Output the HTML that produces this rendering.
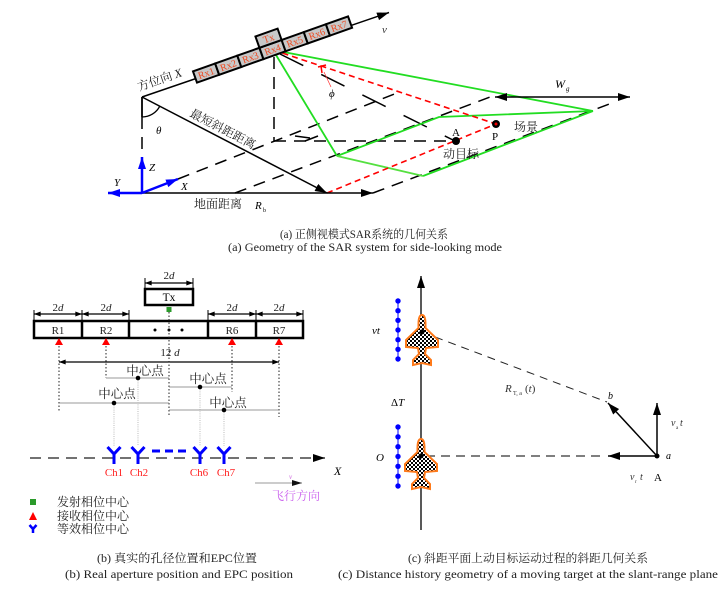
<!DOCTYPE html>
<html><head><meta charset="utf-8"><style>
html,body{margin:0;padding:0;background:#fff;}
svg{display:block;}
text{font-family:"Liberation Serif","Noto Serif CJK SC",serif;}
</style></head><body>
<svg width="728" height="592" viewBox="0 0 728 592" xmlns="http://www.w3.org/2000/svg">
<defs>
<marker id="ah" viewBox="0 0 12 8" refX="12" refY="4" markerWidth="12" markerHeight="8" markerUnits="userSpaceOnUse" orient="auto-start-reverse"><path d="M0,0 L12,4 L0,8 z" fill="#000"/></marker>
<marker id="ahs" viewBox="0 0 8 6" refX="8" refY="3" markerWidth="7" markerHeight="5" markerUnits="userSpaceOnUse" orient="auto-start-reverse"><path d="M0,0 L8,3 L0,6 z" fill="#000"/></marker>
<marker id="ahb" viewBox="0 0 12 8" refX="12" refY="4" markerWidth="12" markerHeight="9" markerUnits="userSpaceOnUse" orient="auto"><path d="M0,0 L12,4 L0,8 z" fill="#0000ff"/></marker>
<marker id="ahg" viewBox="0 0 10 6" refX="10" refY="3" markerWidth="10" markerHeight="6" markerUnits="userSpaceOnUse" orient="auto"><path d="M0,0 L10,3 L0,6 z" fill="#111"/></marker>
<pattern id="chk" width="4" height="4" patternUnits="userSpaceOnUse"><rect width="4" height="4" fill="#fff"/><rect width="2" height="2" fill="#000"/><rect x="2" y="2" width="2" height="2" fill="#000"/></pattern>
<path id="plane" d="M0,-17 C2.5,-17 3.5,-13 3.5,-8 L3.5,-4 L16,8 L16,15 L4,16 L3,22 L9,28 L9,33 L0,31 L-9,33 L-9,28 L-3,22 L-4,16 L-16,15 L-16,8 L-3.5,-4 L-3.5,-8 C-3.5,-13 -2.5,-17 0,-17 Z"/>
</defs>

<!-- ============ (a) top diagram ============ -->
<g stroke="#000" stroke-width="1.5" stroke-dasharray="12,8" fill="none">
<line x1="178" y1="179" x2="397" y2="93"/>
<line x1="235" y1="193" x2="490" y2="97"/>
<line x1="373" y1="193" x2="612" y2="103"/>
<line x1="274" y1="57" x2="274" y2="141"/>
<line x1="274" y1="141" x2="455" y2="141"/>
<line x1="142" y1="117" x2="142" y2="155"/>
</g>
<path d="M295,136 L310,138 M305,141 L318,136" stroke="#000" stroke-width="1.5" fill="none"/>
<line x1="280" y1="54" x2="455" y2="141" stroke="#000" stroke-width="1.5" stroke-dasharray="26,20"/>
<g stroke="#22dd22" stroke-width="1.8" fill="none">
<line x1="273" y1="50" x2="593" y2="111"/>
<line x1="273" y1="50" x2="337" y2="156"/>
<polyline points="337,156 439,117 593,111"/>
<line x1="423" y1="176" x2="593" y2="111"/>
</g>
<line x1="337" y1="156" x2="423" y2="176" stroke="#55e040" stroke-width="1.8"/>
<g stroke="#ff0000" stroke-width="1.6" stroke-dasharray="6,4" fill="none">
<line x1="273" y1="50" x2="496" y2="124"/>
<line x1="327" y1="193" x2="496" y2="124"/>
</g>
<path d="M318,67 L326,65 M321,66 L322,73" stroke="#ff0000" stroke-width="1.5" fill="none"/>
<line x1="324" y1="72" x2="331" y2="87" stroke="#ff3030" stroke-width="0.7"/>
<text x="329" y="97" font-size="11" font-style="italic">ϕ</text>
<line x1="142" y1="97" x2="389" y2="12.5" stroke="#000" stroke-width="1.5" marker-end="url(#ah)"/>
<text x="382" y="33" font-size="11" font-style="italic" fill="#333">v</text>
<line x1="142" y1="97" x2="142" y2="117" stroke="#000" stroke-width="1.8"/>
<path d="M142,117 A20,20 0 0 0 159.8,106.2" stroke="#000" stroke-width="1.3" fill="none"/>
<text x="156" y="134" font-size="11" font-style="italic">θ</text>
<line x1="142" y1="97" x2="327" y2="193" stroke="#000" stroke-width="1.5" marker-end="url(#ah)"/>
<line x1="142" y1="193" x2="373" y2="193" stroke="#000" stroke-width="1.5" marker-end="url(#ah)"/>
<line x1="142" y1="193" x2="142" y2="157" stroke="#0000ff" stroke-width="2.5" marker-end="url(#ahb)"/>
<line x1="142" y1="193" x2="108" y2="193" stroke="#0000ff" stroke-width="2.5" marker-end="url(#ahb)"/>
<line x1="142" y1="193" x2="178" y2="179" stroke="#0000ff" stroke-width="2.5" marker-end="url(#ahb)"/>
<text x="149" y="171" font-size="11" font-style="italic">Z</text>
<text x="114" y="186" font-size="11" font-style="italic">Y</text>
<text x="181" y="190" font-size="11" font-style="italic">X</text>
<line x1="495" y1="97" x2="630" y2="97" stroke="#000" stroke-width="1.6" marker-start="url(#ah)" marker-end="url(#ah)"/>
<text x="555" y="88" font-size="12" font-style="italic">W</text><text x="566" y="91" font-size="7" font-style="italic">g</text>
<circle cx="456" cy="141" r="4" fill="#000"/>
<circle cx="496" cy="124" r="4" fill="#000"/>
<circle cx="496" cy="124" r="1.5" fill="#e00"/>
<text x="452" y="136" font-size="11">A</text>
<text x="492" y="140" font-size="11">P</text>
<text x="514" y="131" font-size="12" fill="#222">场景</text>
<text x="443" y="158" font-size="12" fill="#222">动目标</text>
<text transform="translate(139,91) rotate(-19)" font-size="12" fill="#222">方位向 <tspan font-style="italic">X</tspan></text>
<text transform="translate(189,116) rotate(27.4)" font-size="12" fill="#222">最短斜距距离</text>
<text x="194" y="208" font-size="12" fill="#222">地面距离</text>
<text x="255" y="209" font-size="11" font-style="italic">R</text><text x="263" y="212" font-size="6">b</text>
<g transform="translate(195,77) rotate(-19.5)">
<g fill="#c8c8c8" stroke="#000" stroke-width="2">
<rect x="0" y="-6" width="23.5" height="12"/><rect x="23.5" y="-6" width="23.5" height="12"/><rect x="47" y="-6" width="23.5" height="12"/><rect x="70.5" y="-6" width="23.5" height="12"/><rect x="94" y="-6" width="23.5" height="12"/><rect x="117.5" y="-6" width="23.5" height="12"/><rect x="141" y="-6" width="23.5" height="12"/>
<rect x="70.5" y="-18" width="23.5" height="12"/>
</g>
<g fill="#ee4a22" font-size="10" text-anchor="middle">
<text x="11.75" y="3.5">Rx1</text><text x="35.25" y="3.5">Rx2</text><text x="58.75" y="3.5">Rx3</text><text x="82.25" y="3.5">Rx4</text><text x="105.75" y="3.5">Rx5</text><text x="129.25" y="3.5">Rx6</text><text x="152.75" y="3.5">Rx7</text>
<text x="82.25" y="-8.5">Tx</text>
</g>
</g>
<text x="364" y="238" font-size="11.5" text-anchor="middle" fill="#222" textLength="168" lengthAdjust="spacingAndGlyphs">(a) 正侧视模式SAR系统的几何关系</text>
<text x="365" y="251" font-size="11.5" text-anchor="middle" fill="#222" textLength="274" lengthAdjust="spacingAndGlyphs">(a) Geometry of the SAR system for side-looking mode</text>

<!-- ============ (b) ============ -->
<g stroke="#000" stroke-width="1">
<line x1="145" y1="278" x2="145" y2="288"/><line x1="193" y1="278" x2="193" y2="288"/>
<line x1="34" y1="310" x2="34" y2="320"/><line x1="82" y1="310" x2="82" y2="320"/><line x1="129" y1="310" x2="129" y2="320"/>
<line x1="208" y1="310" x2="208" y2="320"/><line x1="256" y1="310" x2="256" y2="320"/><line x1="303" y1="310" x2="303" y2="320"/>
</g>
<g stroke="#000" stroke-width="1.2" marker-start="url(#ahs)" marker-end="url(#ahs)">
<line x1="145" y1="283" x2="193" y2="283"/>
<line x1="34" y1="314" x2="82" y2="314"/><line x1="82" y1="314" x2="129" y2="314"/>
<line x1="208" y1="314" x2="256" y2="314"/><line x1="256" y1="314" x2="303" y2="314"/>
<line x1="59" y1="362" x2="279" y2="362"/>
</g>
<g font-size="11" text-anchor="middle" fill="#222">
<text x="169" y="279">2<tspan font-style="italic">d</tspan></text>
<text x="58" y="311">2<tspan font-style="italic">d</tspan></text>
<text x="106" y="311">2<tspan font-style="italic">d</tspan></text>
<text x="232" y="311">2<tspan font-style="italic">d</tspan></text>
<text x="279" y="311">2<tspan font-style="italic">d</tspan></text>
<text x="170" y="356">12 <tspan font-style="italic">d</tspan></text>
</g>
<rect x="145" y="289" width="48" height="16" fill="#fff" stroke="#000" stroke-width="2.5"/>
<text x="169" y="301" font-size="11.5" text-anchor="middle">Tx</text>
<rect x="166.5" y="307" width="5" height="5" fill="#2a9a2a"/>
<rect x="34" y="321" width="269" height="17" fill="#fff" stroke="#000" stroke-width="2.5"/>
<g stroke="#000" stroke-width="2.5"><line x1="82" y1="321" x2="82" y2="338"/><line x1="129" y1="321" x2="129" y2="338"/><line x1="208" y1="321" x2="208" y2="338"/><line x1="256" y1="321" x2="256" y2="338"/></g>
<g font-size="11" text-anchor="middle" fill="#222">
<text x="58" y="334">R1</text><text x="106" y="334">R2</text><text x="232" y="334">R6</text><text x="279" y="334">R7</text>
</g>
<circle cx="155" cy="330" r="1.5" fill="#000"/><circle cx="169" cy="330" r="1.5" fill="#000"/><circle cx="182" cy="330" r="1.5" fill="#000"/>
<g fill="#ff0000">
<path d="M55,345 L63,345 L59,338 z"/><path d="M102,345 L110,345 L106,338 z"/><path d="M228,345 L236,345 L232,338 z"/><path d="M275,345 L283,345 L279,338 z"/>
</g>
<g stroke="#222" stroke-width="1" stroke-dasharray="1.5,2">
<line x1="59" y1="346" x2="59" y2="412"/><line x1="106" y1="346" x2="106" y2="378"/><line x1="232" y1="346" x2="232" y2="392"/><line x1="279" y1="346" x2="279" y2="417"/><line x1="169" y1="312" x2="169" y2="417"/>
</g>
<g stroke="#777" stroke-width="0.8">
<line x1="106" y1="378" x2="169" y2="378"/><line x1="169" y1="387" x2="232" y2="387"/><line x1="59" y1="403" x2="169" y2="403"/><line x1="169" y1="410" x2="279" y2="410"/>
</g>
<g stroke="#aaa" stroke-width="0.8" stroke-dasharray="1,1.2">
<line x1="114" y1="403" x2="114" y2="446"/><line x1="138" y1="378" x2="138" y2="446"/><line x1="200" y1="387" x2="200" y2="446"/><line x1="224" y1="410" x2="224" y2="446"/>
</g>
<g fill="#000"><circle cx="138" cy="378" r="2.3"/><circle cx="200" cy="387" r="2.3"/><circle cx="114" cy="403" r="2.3"/><circle cx="224" cy="410" r="2.3"/></g>
<g font-size="12.5" text-anchor="middle" fill="#222">
<text x="145" y="375">中心点</text><text x="208" y="383">中心点</text><text x="117" y="398">中心点</text><text x="228" y="407">中心点</text>
</g>
<line x1="30" y1="458" x2="325" y2="458" stroke="#444" stroke-width="1.5" stroke-dasharray="11,7"/>
<path d="M313,454 L325,458 L313,462 z" fill="#000"/>
<text x="334" y="475" font-size="12" font-style="italic">X</text>
<g stroke="#0000ff" stroke-width="3" fill="none">
<path d="M107.5,447 L114,454 L120.5,447 M114,454 L114,464"/>
<path d="M131.5,447 L138,454 L144.5,447 M138,454 L138,464"/>
<path d="M193.5,447 L200,454 L206.5,447 M200,454 L200,464"/>
<path d="M217.5,447 L224,454 L230.5,447 M224,454 L224,464"/>
<line x1="152" y1="451" x2="188" y2="451" stroke-dasharray="8,5"/>
</g>
<g font-size="11" fill="#ff2020" text-anchor="middle">
<text x="114" y="476">Ch1</text><text x="139" y="476">Ch2</text><text x="199" y="476">Ch6</text><text x="226" y="476">Ch7</text>
</g>
<line x1="255" y1="483" x2="302" y2="483" stroke="#999" stroke-width="1" marker-end="url(#ahg)"/>
<text x="289" y="479" font-size="7" font-style="italic" fill="#cc66dd">v</text>
<text x="296" y="500" font-size="12" fill="#cc66ee" text-anchor="middle">飞行方向</text>
<rect x="30" y="499" width="6" height="6" fill="#2a9a2a"/>
<path d="M29,520 L37,520 L33,512 z" fill="#ff0000"/>
<path d="M29.5,525 L33,529 L36.5,525 M33,529 L33,533" stroke="#0000ff" stroke-width="2.5" fill="none"/>
<g font-size="12" fill="#222">
<text x="57" y="506">发射相位中心</text><text x="57" y="520">接收相位中心</text><text x="57" y="533">等效相位中心</text>
</g>
<text x="177" y="562" font-size="11.5" text-anchor="middle" fill="#222" textLength="160" lengthAdjust="spacingAndGlyphs">(b) 真实的孔径位置和EPC位置</text>
<text x="179" y="578" font-size="11.5" text-anchor="middle" fill="#222" textLength="228" lengthAdjust="spacingAndGlyphs">(b) Real aperture position and EPC position</text>

<!-- ============ (c) ============ -->
<line x1="421" y1="530" x2="421" y2="276" stroke="#222" stroke-width="1.5" marker-end="url(#ah)"/>
<g stroke="#0000ff" stroke-width="1"><line x1="398" y1="301" x2="398" y2="359"/><line x1="398" y1="427" x2="398" y2="486"/></g>
<g fill="#0000ff">
<circle cx="398" cy="301" r="2.7"/><circle cx="398" cy="310.7" r="2.7"/><circle cx="398" cy="320.3" r="2.7"/><circle cx="398" cy="330" r="2.7"/><circle cx="398" cy="339.7" r="2.7"/><circle cx="398" cy="349.3" r="2.7"/><circle cx="398" cy="359" r="2.7"/>
<circle cx="398" cy="427" r="2.7"/><circle cx="398" cy="436.8" r="2.7"/><circle cx="398" cy="446.7" r="2.7"/><circle cx="398" cy="456.5" r="2.7"/><circle cx="398" cy="466.3" r="2.7"/><circle cx="398" cy="476.2" r="2.7"/><circle cx="398" cy="486" r="2.7"/>
</g>
<text x="372" y="334" font-size="11" font-style="italic">vt</text>
<text x="391" y="406" font-size="11">Δ<tspan font-style="italic">T</tspan></text>
<text x="376" y="461" font-size="11" font-style="italic">O</text>
<line x1="422" y1="332" x2="607" y2="402" stroke="#222" stroke-width="1" stroke-dasharray="8,6"/>
<line x1="600" y1="456" x2="421" y2="456" stroke="#333" stroke-width="1.2" stroke-dasharray="9,6"/>
<g transform="translate(422,332)"><use href="#plane" fill="url(#chk)" stroke="#ff7a1a" stroke-width="2"/><circle r="2.5" fill="#000"/></g>
<g transform="translate(421,456)"><use href="#plane" fill="url(#chk)" stroke="#ff7a1a" stroke-width="2"/><circle r="2.5" fill="#000"/></g>
<line x1="657" y1="456" x2="608" y2="456" stroke="#000" stroke-width="1.5" marker-end="url(#ah)"/>
<line x1="657" y1="456" x2="657" y2="403" stroke="#000" stroke-width="1.5" marker-end="url(#ah)"/>
<line x1="657" y1="456" x2="608" y2="403" stroke="#000" stroke-width="1.5" marker-end="url(#ah)"/>
<circle cx="657" cy="456" r="2.5" fill="#000"/>
<text x="505" y="392" font-size="11" font-style="italic" fill="#333">R</text><text x="513" y="395" font-size="6" fill="#333">T, a</text><text x="525" y="392" font-size="11" fill="#333">(<tspan font-style="italic">t</tspan>)</text>
<text x="608" y="399" font-size="10" font-style="italic">b</text>
<text x="671" y="426" font-size="10" font-style="italic" fill="#333">v</text><text x="676" y="429" font-size="5" fill="#333">a</text><text x="680" y="426" font-size="10" font-style="italic" fill="#333">t</text>
<text x="630" y="480" font-size="10" font-style="italic" fill="#333">v</text><text x="635" y="483" font-size="5" fill="#333">r</text><text x="640" y="480" font-size="10" font-style="italic" fill="#333">t</text>
<text x="654" y="481" font-size="11">A</text>
<text x="666" y="459" font-size="10" font-style="italic">a</text>
<text x="528" y="562" font-size="11.5" text-anchor="middle" fill="#222" textLength="240" lengthAdjust="spacingAndGlyphs">(c) 斜距平面上动目标运动过程的斜距几何关系</text>
<text x="528" y="578" font-size="11.5" text-anchor="middle" fill="#222" textLength="380" lengthAdjust="spacingAndGlyphs">(c) Distance history geometry of a moving target at the slant-range plane</text>
</svg>
</body></html>
